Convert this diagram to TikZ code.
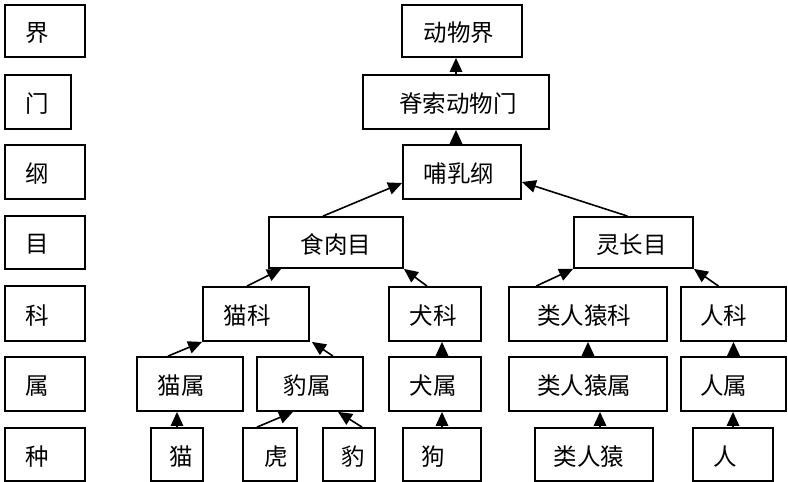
\documentclass[tikz,border=0pt]{standalone}
\usepackage{fontspec}
\setmainfont{Noto Sans CJK SC}
\usetikzlibrary{arrows.meta,calc}
\begin{document}
\begin{tikzpicture}[x=1pt,y=-1pt,
  box/.style={draw,line width=1.8pt,rectangle,inner sep=0pt},
  lbl/.style={font=\fontsize{23.5}{23.5}\selectfont,inner sep=0pt,yshift=-2pt},
  arr/.style={line width=1.6pt,-{Triangle[length=14pt,width=12.5pt]}}]
\useasboundingbox[fill=white] (0,0) rectangle (788,482);
% rank column
\node[box,minimum width=80,minimum height=52,label={[lbl,xshift=-8pt]center:界}] (L1) at (45,31) {};
\node[box,minimum width=66,minimum height=54,label={[lbl,xshift=-1pt]center:门}] (L2) at (38,102) {};
\node[box,minimum width=80,minimum height=54,label={[lbl,xshift=-8pt]center:纲}] (L3) at (45,172) {};
\node[box,minimum width=80,minimum height=53,label={[lbl,xshift=-8pt]center:目}] (L4) at (45,242.5) {};
\node[box,minimum width=80,minimum height=55,label={[lbl,xshift=-8pt]center:科}] (L5) at (45,313.5) {};
\node[box,minimum width=80,minimum height=54,label={[lbl,xshift=-8pt]center:属}] (L6) at (45,384) {};
\node[box,minimum width=80,minimum height=53,label={[lbl,xshift=-8pt]center:种}] (L7) at (45,454.5) {};
% tree
\node[box,minimum width=120,minimum height=52,label={[lbl,xshift=-3pt]center:动物界}] (A) at (462,31) {};
\node[box,minimum width=186,minimum height=54,label={[lbl,xshift=2pt]center:脊索动物门}] (B) at (456,102) {};
\node[box,minimum width=118,minimum height=54,label={[lbl,xshift=-3pt]center:哺乳纲}] (C) at (462,172) {};
\node[box,minimum width=134,minimum height=51,label={[lbl]center:食肉目}] (D) at (336,242.5) {};
\node[box,minimum width=119,minimum height=51,label={[lbl,xshift=-2pt]center:灵长目}] (E) at (633.5,242.5) {};
\node[box,minimum width=106,minimum height=54,label={[lbl,xshift=-9pt]center:猫科}] (F) at (256,314) {};
\node[box,minimum width=92,minimum height=54,label={[lbl,xshift=-2pt]center:犬科}] (G) at (435,314) {};
\node[box,minimum width=158,minimum height=54,label={[lbl,xshift=-4pt]center:类人猿科}] (H) at (588,314) {};
\node[box,minimum width=105,minimum height=54,label={[lbl,xshift=-10pt]center:人科}] (I) at (733.5,314) {};
\node[box,minimum width=106,minimum height=54,label={[lbl,xshift=-9pt]center:猫属}] (J) at (190,384) {};
\node[box,minimum width=106,minimum height=54,label={[lbl,xshift=-3pt]center:豹属}] (K) at (310,384) {};
\node[box,minimum width=92,minimum height=54,label={[lbl,xshift=-2pt]center:犬属}] (L) at (435,384) {};
\node[box,minimum width=158,minimum height=54,label={[lbl,xshift=-4pt]center:类人猿属}] (M) at (588,384) {};
\node[box,minimum width=105,minimum height=54,label={[lbl,xshift=-10pt]center:人属}] (N) at (733.5,384) {};
\node[box,minimum width=52,minimum height=53,label={[lbl,xshift=4pt]center:猫}] (O) at (177,454.5) {};
\node[box,minimum width=54,minimum height=53,label={[lbl,xshift=6pt]center:虎}] (P) at (270,454.5) {};
\node[box,minimum width=52,minimum height=53,label={[lbl,xshift=4pt]center:豹}] (Q) at (349,454.5) {};
\node[box,minimum width=78,minimum height=53,label={[lbl,xshift=-9pt]center:狗}] (R) at (442,454.5) {};
\node[box,minimum width=118,minimum height=53,label={[lbl,xshift=-5pt]center:类人猿}] (S) at (594,454.5) {};
\node[box,minimum width=80,minimum height=53,label={[lbl,xshift=-8pt]center:人}] (T) at (733,454.5) {};
% connectors
\draw[arr] (B.north) -- (A.south -| B.north);
\draw[arr] (C.north -| B.north) -- (B.south);
\draw[arr] ($(D.north)+(-13,0)$) -- ($(C.west)+(0,11)$);
\draw[arr] ($(E.north)+(-6,0)$) -- ($(C.east)+(0,10)$);
\draw[arr] ($(F.north)+(-9,0)$) -- ($(D.south west)+(13,0)$);
\draw[arr] ($(G.north)+(-8,0)$) -- (D.south east);
\draw[arr] ($(J.north)+(-22,0)$) -- (F.south west);
\draw[arr] ($(K.north)+(23,0)$) -- ($(F.south east)+(2,0)$);
\draw[arr] (O.north) -- (J.south -| O.north);
\draw[arr] ($(P.north)+(-13,0)$) -- ($(K.south)+(-17,0)$);
\draw[arr] ($(Q.north)+(13,0)$) -- ($(K.south)+(28,0)$);
\draw[arr] (L.north -| R.north) -- (G.south -| R.north);
\draw[arr] (R.north) -- (L.south -| R.north);
\draw[arr] ($(H.north west)+(28,0)$) -- (E.south west);
\draw[arr] ($(I.north)+(-15,0)$) -- (E.south east);
\draw[arr] (M.north) -- (H.south);
\draw[arr] ($(S.north)+(6,0)$) -- ($(M.south)+(12,0)$);
\draw[arr] (N.north) -- (I.south);
\draw[arr] (T.north) -- (N.south -| T.north);
\end{tikzpicture}
\end{document}
